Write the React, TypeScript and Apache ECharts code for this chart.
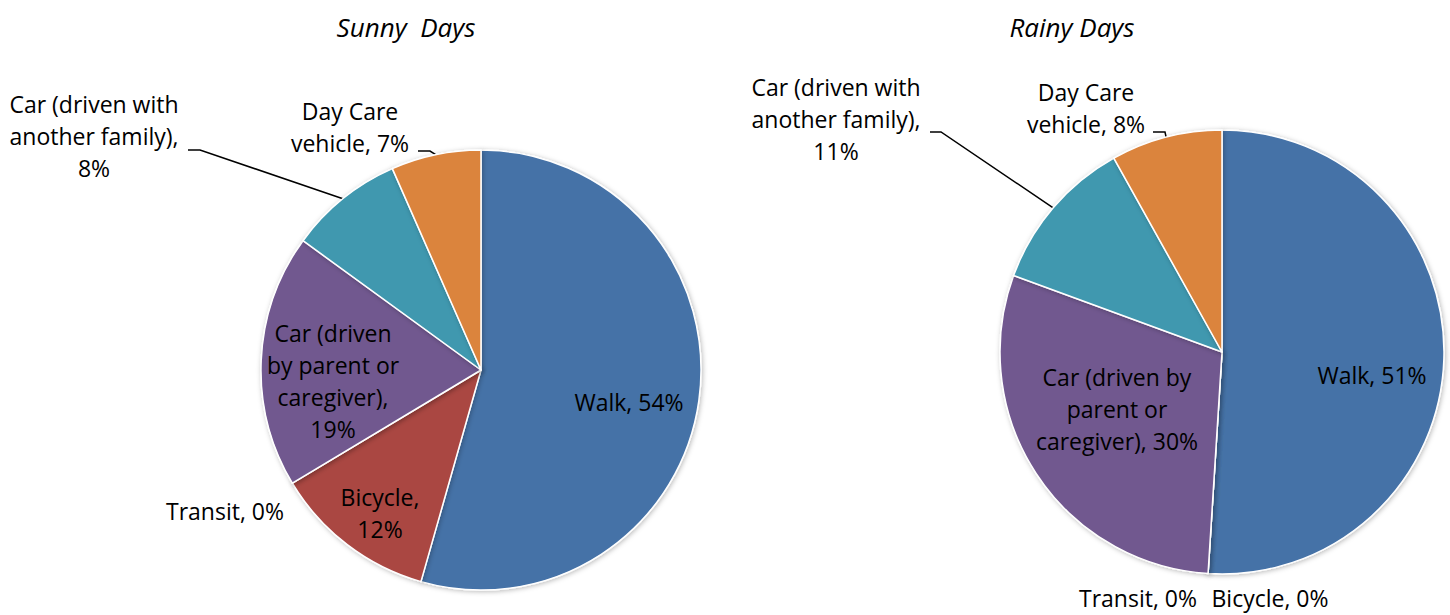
import React, { useEffect, useRef } from "react";
import * as echarts from "echarts";

const categories = [
  "Walk",
  "Bicycle",
  "Transit",
  "Car (driven by parent or caregiver)",
  "Car (driven with another family)",
  "Day Care vehicle",
];
const sunnyValues = [54.4, 12.0, 0, 18.6, 8.4, 6.6];
const rainyValues = [51.0, 0, 0, 29.6, 11.3, 8.1];
const colors = ["#4572A7", "#AA4643", "#89A54E", "#71588F", "#4198AF", "#DB843D"];
const titles = ["Sunny  Days", "Rainy Days"];

// label text wrapping for each pie (name text, separator before the value)
const sunnyWrap: [string, string][] = [
  ["Walk", ", "],
  ["Bicycle", ",\n"],
  ["Transit", ", "],
  ["Car (driven\nby parent or\ncaregiver)", ",\n"],
  ["Car (driven with\nanother family)", ",\n"],
  ["Day Care\nvehicle", ", "],
];
const rainyWrap: [string, string][] = [
  ["Walk", ", "],
  ["Bicycle", ", "],
  ["Transit", ", "],
  ["Car (driven by\nparent or\ncaregiver)", ", "],
  ["Car (driven with\nanother family)", ",\n"],
  ["Day Care\nvehicle", ", "],
];

// label placement (centre of text block) and optional leader line [labelEndX, bendX, y]
type Place = { x: number; y: number; line?: [number, number, number] };
const sunnyPlace: Place[] = [
  { x: 629, y: 402 },
  { x: 380, y: 513 },
  { x: 225, y: 511 },
  { x: 333, y: 381 },
  { x: 94, y: 136, line: [188, 200, 150] },
  { x: 350, y: 127, line: [418, 430, 151] },
];
const rainyPlace: Place[] = [
  { x: 1372, y: 375 },
  { x: 1270, y: 598 },
  { x: 1138, y: 598 },
  { x: 1117, y: 409 },
  { x: 836, y: 119, line: [930, 941, 132] },
  { x: 1086, y: 108, line: [1153, 1165, 132] },
];

const FONT = "'Open Sans', 'Noto Sans', sans-serif";

function buildSeries(
  values: number[],
  wrap: [string, string][],
  place: Place[],
  center: [number, number],
  radius: number
) {
  return {
    type: "pie",
    center,
    radius,
    startAngle: 90,
    clockwise: true,
    avoidLabelOverlap: false,
    itemStyle: {
      borderColor: "#ffffff",
      borderWidth: 1.5,
      shadowBlur: 5,
      shadowColor: "rgba(0,0,0,0.28)",
      shadowOffsetX: 1,
      shadowOffsetY: 1,
    },
    label: {
      color: "#000000",
      fontFamily: FONT,
      fontSize: 23,
      lineHeight: 32,
      align: "center",
    },
    labelLine: {
      show: false,
      lineStyle: { color: "#000000", width: 1.5 },
    },
    labelLayout: (params: any) => {
      const p = place[params.dataIndex];
      const out: any = { x: p.x, y: p.y, align: "center", verticalAlign: "middle" };
      if (p.line && params.labelLinePoints && params.labelLinePoints[0]) {
        out.labelLinePoints = [
          params.labelLinePoints[0],
          [p.line[1], p.line[2]],
          [p.line[0], p.line[2]],
        ];
      }
      return out;
    },
    data: categories.map((name, i) => ({
      name,
      value: values[i],
      itemStyle: { color: colors[i] },
      label: {
        show: true,
        position: place[i].line ? "outside" : "inside",
        lineHeight: place[i].line || wrap[i][0].includes("\n") || wrap[i][1].includes("\n") ? 32 : 26,
        formatter: () => `${wrap[i][0]}${wrap[i][1]}${Math.round(values[i])}%`,
      },
      labelLine: { show: !!place[i].line },
    })),
  };
}

export default function App() {
  const ref = useRef<HTMLDivElement>(null);
  useEffect(() => {
    document.body.style.margin = "0";
    if (!ref.current) return;
    const chart = echarts.init(ref.current, undefined, { renderer: "svg" });
    const titleStyle = {
      fontFamily: FONT,
      fontStyle: "italic",
      fontWeight: "normal",
      fontSize: 26,
      color: "#000",
    };
    chart.setOption({
      animation: false,
      backgroundColor: "#ffffff",
      title: [
        { text: titles[0], left: 401, top: 9, textAlign: "center", textStyle: titleStyle },
        { text: titles[1], left: 1067, top: 9, textAlign: "center", textStyle: titleStyle },
      ],
      series: [
        buildSeries(sunnyValues, sunnyWrap, sunnyPlace, [481, 370], 220),
        buildSeries(rainyValues, rainyWrap, rainyPlace, [1222, 352], 222),
      ],
    });
    return () => chart.dispose();
  }, []);
  return <div ref={ref} style={{ width: 1450, height: 615 }} />;
}
